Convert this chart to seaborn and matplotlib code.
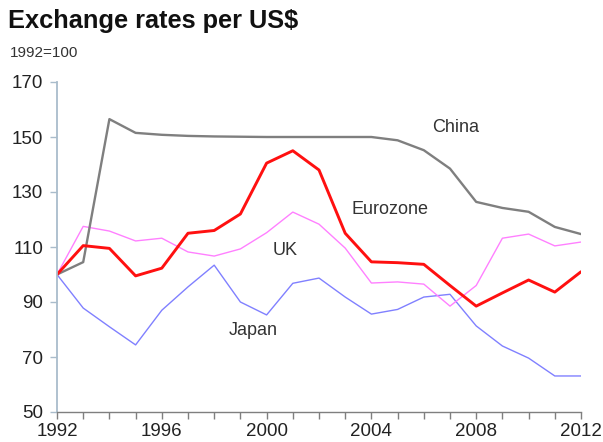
import numpy as np
import pandas as pd
import matplotlib
matplotlib.use("Agg")
import matplotlib.pyplot as plt
import seaborn as sns

sns.set_style("white")
plt.rcParams['font.family'] = ['Liberation Sans', 'DejaVu Sans']

# -----------------------------------
# Data (1992 = 100)
# -----------------------------------

years = list(range(1992, 2013))

china = [100, 104.5, 156.5, 151.5, 150.8, 150.4, 150.2, 150.1, 150, 150, 150,
         150, 150, 148.8, 145.2, 138.5, 126.4, 124.2, 122.8, 117.3, 114.7]
eurozone = [100, 110.5, 109.5, 99.5, 102.3, 115, 116, 122, 140.5, 145, 138,
            115, 104.6, 104.3, 103.7, 96, 88.5, 93.3, 98, 93.6, 101]
uk = [100, 117.5, 115.8, 112.2, 113.2, 108.2, 106.7, 109.3, 115.2, 122.7, 118.3,
      109.6, 96.9, 97.3, 96.5, 88.5, 96, 113.2, 114.7, 110.4, 111.8]
japan = [100, 87.8, 81, 74.4, 87, 95.5, 103.4, 90, 85.3, 96.8, 98.7,
         91.8, 85.6, 87.3, 91.8, 92.8, 81.3, 74, 69.6, 63.1, 63.1]

series = {'China': china, 'Eurozone': eurozone, 'UK': uk, 'Japan': japan}
colors = {'China': '#7f7f7f', 'Eurozone': '#ff1010', 'UK': '#ff80ff', 'Japan': '#8080ff'}
widths = {'China': 1.7, 'Eurozone': 2.1, 'UK': 1.0, 'Japan': 1.0}

# label positions (year, value)
label_pos = {'China': (2007.2, 153.3), 'Eurozone': (2004.7, 123.5),
             'UK': (2000.7, 108.9), 'Japan': (1999.5, 79.8)}

df = pd.DataFrame({'Year': years, **series})
long_df = df.melt(id_vars='Year', var_name='Region', value_name='Index')

# -----------------------------------
# Plot
# -----------------------------------

fig = plt.figure(figsize=(6.03, 4.42), dpi=100)
ax = fig.add_axes([57 / 603, 1 - 412 / 442, 524 / 603, 330 / 442])

for name in ['Japan', 'UK', 'China', 'Eurozone']:
    sub = long_df[long_df['Region'] == name]
    sns.lineplot(data=sub, x='Year', y='Index', color=colors[name],
                 linewidth=widths[name], ax=ax, legend=False)
    lx, ly = label_pos[name]
    ax.text(lx, ly, name, fontsize=13, color='#333333', ha='center', va='center')

ax.set_xlim(1992, 2012)
ax.set_ylim(50, 170)
ax.set_xticks(range(1992, 2013))
ax.set_xticklabels([str(y) if (y - 1992) % 4 == 0 else '' for y in years])
ax.set_yticks(range(50, 171, 20))
ax.set_xlabel('')
ax.set_ylabel('')

for side in ['top', 'right']:
    ax.spines[side].set_visible(False)
ax.spines['left'].set_color('#a9bccb')
ax.spines['left'].set_linewidth(1.3)
ax.spines['bottom'].set_color('#7f7f7f')
ax.spines['bottom'].set_linewidth(1.0)

ax.tick_params(axis='x', direction='out', length=5, width=1, color='#7f7f7f',
               labelsize=13.5, labelcolor='#222222', pad=3, bottom=True)
ax.tick_params(axis='y', direction='out', length=5, width=1, color='#a9bccb',
               labelsize=13.5, labelcolor='#222222', pad=5, left=True)
ax.grid(False)

fig.text(8 / 603, 1 - 21 / 442, 'Exchange rates per US$', fontsize=18.3,
         fontweight='bold', color='#111111', ha='left', va='center')
fig.text(10 / 603, 1 - 53 / 442, '1992=100', fontsize=11, color='#333333',
         ha='left', va='center')

fig.savefig('out.png', dpi=100)
